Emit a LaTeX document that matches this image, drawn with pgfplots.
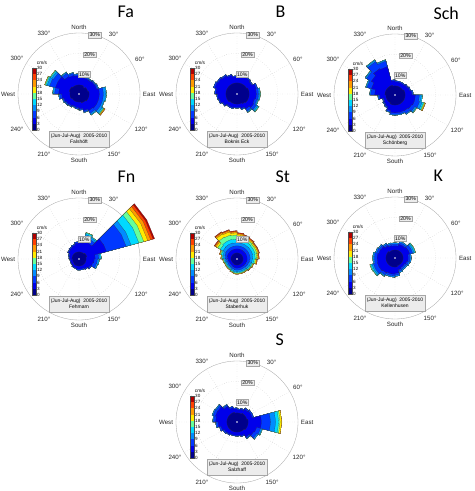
\documentclass[border=0pt]{standalone}
\usepackage{pgfplots}
\pgfplotsset{compat=1.18}
\usepackage{pgfplotstable}
\usepgfplotslibrary{polar}
\usepackage{fontspec}
\setmainfont{Liberation Sans}
\newfontfamily\titlefont{Carlito}

% speed classes 0-3, 3-6, ..., 27-30 cm/s
\definecolor{w1}{rgb}{0,0,0.55}
\definecolor{w2}{rgb}{0,0,0.92}
\definecolor{w3}{rgb}{0,0.22,1}
\definecolor{w4}{rgb}{0,0.55,1}
\definecolor{w5}{rgb}{0,0.85,1}
\definecolor{w6}{rgb}{0.4,1,0.6}
\definecolor{w7}{rgb}{1,0.92,0}
\definecolor{w8}{rgb}{1,0.6,0}
\definecolor{w9}{rgb}{1,0.25,0}
\definecolor{w10}{rgb}{0.7,0,0}

% cumulative frequency (%) per direction sector, c1 = below 3 cm/s ... c10 = all
\pgfplotstableread{
dir c1 c2 c3 c4 c5 c6 c7 c8 c9 c10
7.5   4.5 8.7 9.2 9.5 9.5 9.5 9.5 9.5 9.5 9.5
22.5  4.5 8.2 8.7 9 9 9 9 9 9 9
37.5  4 8.2 8.7 9 9 9 9 9 9 9
52.5  4.5 8.7 9.2 9.5 9.5 9.5 9.5 9.5 9.5 9.5
67.5  4.5 9 9.6 10 10 10 10 10 10 10
82.5  5 10 12 13.2 13.5 13.5 13.5 13.5 13.5 13.5
97.5  5 10 12 13.2 13.5 13.5 13.5 13.5 13.5 13.5
112.5 5 10 12 12.8 13 13 13 13 13 13
127.5 5 10 12 13.2 13.8 14.1 14.4 14.8 14.8 14.8
142.5 4.5 9.5 11 11.7 12 12 12 12 12 12
157.5 4.5 8.5 9.2 9.5 9.5 9.5 9.5 9.5 9.5 9.5
172.5 4 7.3 7.8 8 8 8 8 8 8 8
187.5 4 6.8 7.3 7.5 7.5 7.5 7.5 7.5 7.5 7.5
202.5 4 6.4 6.8 7 7 7 7 7 7 7
217.5 4 6.8 7.3 7.5 7.5 7.5 7.5 7.5 7.5 7.5
232.5 4 7.2 7.7 8 8 8 8 8 8 8
247.5 4.5 7.7 8.2 8.5 8.5 8.5 8.5 8.5 8.5 8.5
262.5 4.5 8.5 9.5 10 10 10 10 10 10 10
277.5 4.5 10 12 12.7 13 13 13 13 13 13
292.5 5 12 15 16.3 16.9 17.3 17.5 17.5 17.5 17.5
307.5 5 12 14.5 15.5 16.1 16.5 16.5 16.5 16.5 16.5
322.5 4.5 10 11.8 12.3 12.5 12.5 12.5 12.5 12.5 12.5
337.5 4.5 9.5 10.6 11 11 11 11 11 11 11
352.5 4.5 9 9.6 10 10 10 10 10 10 10
}\tabFa

\pgfplotstableread{
dir c1 c2 c3 c4 c5 c6 c7 c8 c9 c10
7.5   5.5 8.5 9 9 9 9 9 9 9 9
22.5  5.5 9 9.5 9.5 9.5 9.5 9.5 9.5 9.5 9.5
37.5  5.5 9 9.5 9.5 9.5 9.5 9.5 9.5 9.5 9.5
52.5  5.5 8.5 9 9 9 9 9 9 9 9
67.5  6 9.8 10.5 10.5 10.5 10.5 10.5 10.5 10.5 10.5
82.5  6 9.5 10.6 11.2 11.5 11.5 11.5 11.5 11.5 11.5
97.5  6 9.5 10.6 11.2 11.5 11.5 11.5 11.5 11.5 11.5
112.5 6 9 10.2 10.7 11 11 11 11 11 11
127.5 6 9.5 11 11.8 12.3 12.5 12.5 12.5 12.5 12.5
142.5 5.5 8.5 9.8 10.3 10.5 10.5 10.5 10.5 10.5 10.5
157.5 5 7.3 7.8 8 8 8 8 8 8 8
172.5 5 6.6 7 7 7 7 7 7 7 7
187.5 5 6.6 7 7 7 7 7 7 7 7
202.5 5 7 7.5 7.5 7.5 7.5 7.5 7.5 7.5 7.5
217.5 5 7 7.5 7.5 7.5 7.5 7.5 7.5 7.5 7.5
232.5 5.5 8 8.5 8.5 8.5 8.5 8.5 8.5 8.5 8.5
247.5 5.5 9 9.5 9.5 9.5 9.5 9.5 9.5 9.5 9.5
262.5 5.5 9.5 10 10 10 10 10 10 10 10
277.5 5.5 10.4 11 11 11 11 11 11 11 11
292.5 5.5 11.3 12 12 12 12 12 12 12 12
307.5 5.5 10.9 11.5 11.5 11.5 11.5 11.5 11.5 11.5 11.5
322.5 5.5 10.4 11 11 11 11 11 11 11 11
337.5 5.5 9.5 10 10 10 10 10 10 10 10
352.5 5.5 8.5 9 9 9 9 9 9 9 9
}\tabB

\pgfplotstableread{
dir c1 c2 c3 c4 c5 c6 c7 c8 c9 c10
7.5   4.5 6.5 7 7 7 7 7 7 7 7
22.5  4.5 6.5 7 7 7 7 7 7 7 7
37.5  4.5 6.5 7 7 7 7 7 7 7 7
52.5  4.5 7 7.5 7.5 7.5 7.5 7.5 7.5 7.5 7.5
67.5  5 7.5 8 8 8 8 8 8 8 8
82.5  5 8.3 8.8 9 9 9 9 9 9 9
97.5  5 10 12 13 13.5 13.5 13.5 13.5 13.5 13.5
112.5 5 10 12.5 13.8 14.5 14.9 15.3 15.5 15.5 15.5
127.5 5 9.5 11.3 12 12.3 12.5 12.5 12.5 12.5 12.5
142.5 5 9 10.5 11 11 11 11 11 11 11
157.5 5 8.8 9.6 10 10 10 10 10 10 10
172.5 5 8.8 9.6 10 10 10 10 10 10 10
187.5 5 8.8 9.6 10 10 10 10 10 10 10
202.5 5 8 8.7 9 9 9 9 9 9 9
217.5 4.5 6.8 7.3 7.5 7.5 7.5 7.5 7.5 7.5 7.5
232.5 4.5 6.3 6.8 7 7 7 7 7 7 7
247.5 4.5 5.8 6.3 6.5 6.5 6.5 6.5 6.5 6.5 6.5
262.5 4.5 7.5 8.2 8.5 8.5 8.5 8.5 8.5 8.5 8.5
277.5 5 10 12 12.5 12.5 12.5 12.5 12.5 12.5 12.5
292.5 5 12 14.3 14.8 15 15 15 15 15 15
307.5 5 13.5 16.2 16.8 17 17 17 17 17 17
322.5 5 15 19 19.7 20 20 20 20 20 20
337.5 5 14.5 17.3 17.8 18 18 18 18 18 18
352.5 4.5 7 7.5 7.5 7.5 7.5 7.5 7.5 7.5 7.5
}\tabSch

\pgfplotstableread{
dir c1 c2 c3 c4 c5 c6 c7 c8 c9 c10
7.5   3.5 8 9.3 10 10 10 10 10 10 10
22.5  3.5 9 11.5 12.5 13.2 13.5 13.5 13.5 13.5 13.5
37.5  3.5 9 11 12 12.5 12.5 12.5 12.5 12.5 12.5
52.5  4 14 24 26.5 30.5 33 35 36.5 37.7 38.5
67.5  4 14 24 26.5 30.5 33 35 36.5 37.7 38.5
82.5  3.5 8 9.8 10.5 11 11 11 11 11 11
97.5  3.5 7.5 9 9.7 10 10 10 10 10 10
112.5 3.5 7 8.8 9.5 9.5 9.5 9.5 9.5 9.5 9.5
127.5 3.5 6.3 7 7 7 7 7 7 7 7
142.5 3.5 5.5 6 6 6 6 6 6 6 6
157.5 3.5 5 5.5 5.5 5.5 5.5 5.5 5.5 5.5 5.5
172.5 3.5 5 5.5 5.5 5.5 5.5 5.5 5.5 5.5 5.5
187.5 3.5 5 5.5 5.5 5.5 5.5 5.5 5.5 5.5 5.5
202.5 3.5 4.6 5 5 5 5 5 5 5 5
217.5 3.5 4.6 5 5 5 5 5 5 5 5
232.5 3.2 4.2 4.5 4.5 4.5 4.5 4.5 4.5 4.5 4.5
247.5 3.2 4.2 4.5 4.5 4.5 4.5 4.5 4.5 4.5 4.5
262.5 3.2 4.2 4.5 4.5 4.5 4.5 4.5 4.5 4.5 4.5
277.5 3.5 4.6 5 5 5 5 5 5 5 5
292.5 3.5 5 5.5 5.5 5.5 5.5 5.5 5.5 5.5 5.5
307.5 3.5 6 6.5 6.5 6.5 6.5 6.5 6.5 6.5 6.5
322.5 3.5 6.5 7 7 7 7 7 7 7 7
337.5 3.5 7 7.5 7.5 7.5 7.5 7.5 7.5 7.5 7.5
352.5 3.5 7.8 8.5 8.5 8.5 8.5 8.5 8.5 8.5 8.5
}\tabFn

\pgfplotstableread{
dir c1 c2 c3 c4 c5 c6 c7 c8 c9 c10
7.5   3 5 6.5 8 9.5 11 11.9 12.5 12.85 13
22.5  3 5 6.5 8 9.5 10.8 11.5 12.1 12.4 12.5
37.5  3 5 6.5 8 9.5 10.5 11.1 11.6 11.9 12
52.5  3 5 6.5 8 9.3 10.2 10.8 11.2 11.4 11.5
67.5  3 5 6.5 8 9.3 10.2 10.8 11.2 11.4 11.5
82.5  3 5 6.5 7.8 9 9.8 10.3 10.7 10.9 11
97.5  3 5 6.3 7.5 8.4 9 9.5 9.8 10 10
112.5 3 4.8 6 7 7.6 8 8.3 8.5 8.5 8.5
127.5 3 4.7 5.8 6.7 7.3 7.6 7.8 8 8 8
142.5 3 4.5 5.5 6.3 6.8 7.1 7.3 7.5 7.5 7.5
157.5 3 4.5 5.5 6.3 6.8 7.1 7.3 7.5 7.5 7.5
172.5 3 4.5 5.5 6.3 6.8 7.1 7.3 7.5 7.5 7.5
187.5 3 4.5 5.5 6.3 6.8 7.1 7.3 7.5 7.5 7.5
202.5 3 4.3 5.2 5.9 6.4 6.7 6.9 7 7 7
217.5 2.8 4 4.9 5.5 5.9 6.2 6.4 6.5 6.5 6.5
232.5 2.8 4 4.9 5.5 5.9 6.2 6.4 6.5 6.5 6.5
247.5 2.8 4 4.9 5.5 5.9 6.2 6.4 6.5 6.5 6.5
262.5 3 4.3 5.2 5.9 6.4 6.7 6.9 7 7 7
277.5 3 4.7 5.8 6.7 7.3 7.6 7.8 8 8 8
292.5 3 5 6.2 7.2 8 8.5 8.8 9 9 9
307.5 3 5 6.5 8 9.5 11 11.9 12.5 12.85 13
322.5 3 5 6.5 8.2 10 12.5 14.3 15 15.35 15.5
337.5 3 5 6.5 8.2 10 12.2 13.8 14.5 14.85 15
352.5 3 5 6.5 8 9.8 11.8 12.9 13.5 13.85 14
}\tabSt

\pgfplotstableread{
dir c1 c2 c3 c4 c5 c6 c7 c8 c9 c10
7.5   4 6 6.9 7.5 7.5 7.5 7.5 7.5 7.5 7.5
22.5  4 7 7.9 8.5 8.5 8.5 8.5 8.5 8.5 8.5
37.5  4 7 7.9 8.5 8.5 8.5 8.5 8.5 8.5 8.5
52.5  4 7.5 9 9.8 10.3 10.5 10.5 10.5 10.5 10.5
67.5  4 7.5 9 9.8 10.3 10.5 10.5 10.5 10.5 10.5
82.5  4 6.5 7.4 8 8 8 8 8 8 8
97.5  4 6.5 7.4 8 8 8 8 8 8 8
112.5 4 6 6.9 7.5 7.5 7.5 7.5 7.5 7.5 7.5
127.5 4 5.5 6.4 7 7 7 7 7 7 7
142.5 4 5.5 6.4 7 7 7 7 7 7 7
157.5 4 6 6.9 7.5 7.5 7.5 7.5 7.5 7.5 7.5
172.5 4.5 7.5 8.4 9 9 9 9 9 9 9
187.5 4.5 8 8.9 9.5 9.5 9.5 9.5 9.5 9.5 9.5
202.5 4.5 8 8.9 9.5 9.5 9.5 9.5 9.5 9.5 9.5
217.5 4.5 8.5 9.7 10.2 10.5 10.5 10.5 10.5 10.5 10.5
232.5 4.5 9 11 11.8 12.3 12.5 12.5 12.5 12.5 12.5
247.5 4.5 9 11 11.8 12.4 12.8 12.8 12.8 12.8 12.8
262.5 4.5 8.8 10.2 10.8 11 11 11 11 11 11
277.5 4.5 8.8 10.2 10.8 11 11 11 11 11 11
292.5 4.5 8.3 9.4 10 10 10 10 10 10 10
307.5 4.5 8 8.9 9.5 9.5 9.5 9.5 9.5 9.5 9.5
322.5 4 7 7.9 8.5 8.5 8.5 8.5 8.5 8.5 8.5
337.5 4 6.3 7.1 7.7 7.7 7.7 7.7 7.7 7.7 7.7
352.5 4 6 6.9 7.5 7.5 7.5 7.5 7.5 7.5 7.5
}\tabK

\pgfplotstableread{
dir c1 c2 c3 c4 c5 c6 c7 c8 c9 c10
7.5   4.5 6 6.5 6.5 6.5 6.5 6.5 6.5 6.5 6.5
22.5  4.5 6.5 7 7 7 7 7 7 7 7
37.5  5 7.3 8 8 8 8 8 8 8 8
52.5  5 7.8 8.5 8.5 8.5 8.5 8.5 8.5 8.5 8.5
67.5  5 7.8 8.5 8.5 8.5 8.5 8.5 8.5 8.5 8.5
82.5  5.5 12 16.5 19 20.5 21.2 22 22 22 22
97.5  5.5 12 16.5 19 20.5 21.2 22 22 22 22
112.5 5.5 10 12 12.7 13 13 13 13 13 13
127.5 5.5 9.5 11.3 12 12 12 12 12 12 12
142.5 5 8.5 9.2 9.5 9.5 9.5 9.5 9.5 9.5 9.5
157.5 5 7 7.5 7.5 7.5 7.5 7.5 7.5 7.5 7.5
172.5 5 6.6 7 7 7 7 7 7 7 7
187.5 5 6.6 7 7 7 7 7 7 7 7
202.5 5 6.6 7 7 7 7 7 7 7 7
217.5 5 7 7.5 7.5 7.5 7.5 7.5 7.5 7.5 7.5
232.5 5 7.3 8 8 8 8 8 8 8 8
247.5 5 8.2 9 9 9 9 9 9 9 9
262.5 5 9.3 10.2 10.5 10.5 10.5 10.5 10.5 10.5 10.5
277.5 5 10.5 11.6 12 12 12 12 12 12 12
292.5 5 11 12.2 12.7 12.7 12.7 12.7 12.7 12.7 12.7
307.5 5 10.8 11.8 12.3 12.3 12.3 12.3 12.3 12.3 12.3
322.5 5 9 9.7 10 10 10 10 10 10 10
337.5 5 7.3 8 8 8 8 8 8 8 8
352.5 4.5 6.5 7 7 7 7 7 7 7 7
}\tabS

% one speed band of a rose: star polygon through the sector edges (15 deg sectors)
\newcommand\roselayer[3]{%
  \pgfplotstablegetrowsof{#1}%
  \pgfmathtruncatemacro\rosen{\pgfplotsretval-1}%
  \gdef\rosepts{}%
  \foreach \i in {0,...,\rosen}{%
    \pgfplotstablegetelem{\i}{dir}\of{#1}\let\rosedir\pgfplotsretval
    \pgfplotstablegetelem{\i}{#2}\of{#1}\let\roser\pgfplotsretval
    \pgfmathsetmacro\rosea{90-\rosedir+7.5}%
    \pgfmathsetmacro\roseb{90-\rosedir-7.5}%
    \xdef\rosepts{\rosepts(\rosea,\roser)(\roseb,\roser)}%
  }%
  \edef\rosecmd{\noexpand\addplot[fill=#3,draw=black!80,line width=0.1pt] coordinates {\rosepts} -- cycle;}%
  \rosecmd
}
\newcommand\drawrose[1]{%
  \roselayer{#1}{c10}{w10}\roselayer{#1}{c9}{w9}\roselayer{#1}{c8}{w8}%
  \roselayer{#1}{c7}{w7}\roselayer{#1}{c6}{w6}\roselayer{#1}{c5}{w5}%
  \roselayer{#1}{c4}{w4}\roselayer{#1}{c3}{w3}\roselayer{#1}{c2}{w2}%
  \roselayer{#1}{c1}{w1}}

\pgfplotsset{
  rosestyle/.style={
    scale only axis, width=122bp, height=122bp, anchor=origin,
    xmin=0, xmax=360, ymin=0, ymax=30, clip=false,
    xtick={0,30,...,330},
    xticklabels={East,60°,30°,North,330°,300°,West,240°,210°,South,150°,120°},
    ytick={10,20,30}, yticklabels={},
    xmajorgrids, ymajorgrids,
    major grid style={gray!55, dotted, line width=0.35pt},
    separate axis lines,
    x axis line style={gray!60, line width=0.35pt},
    y axis line style={draw=none},
    major tick length=0pt,
    xticklabel style={font=\fontsize{6.2}{7}\selectfont, text=black!85, inner sep=2.8pt},
  },
}
\tikzset{
  pctbox/.style={draw=gray!70, fill=gray!15, line width=0.3pt,
    font=\fontsize{5.2}{6}\selectfont, inner sep=1pt},
}

\newcommand\windpanel[5]{%
  \begin{polaraxis}[rosestyle, at={(#1bp,#2bp)}]
    \drawrose{#3}
    \fill[white] (axis cs:0,0) circle[radius=0.9pt];
    \node[pctbox] at (axis cs:75,10) {10\%};
    \node[pctbox] at (axis cs:75,20) {20\%};
    \node[pctbox] at (axis cs:75,30) {30\%};
  \end{polaraxis}
  \begin{scope}[shift={(#1bp,#2bp)}]
    \node[anchor=west, font=\titlefont\fontsize{18}{20}\selectfont] at (35,82) {#4};
    \foreach \k in {1,...,10}{%
      \fill[w\k] (-47,{-36+6.2*(\k-1)}) rectangle (-43,{-36+6.2*\k});}
    \draw[black!70, line width=0.2pt] (-47,-36) rectangle (-43,26);
    \foreach \k/\v in {0/0,1/3,2/6,3/9,4/12,5/15,6/18,7/21,8/24,9/27,10/30}{%
      \node[anchor=west, inner sep=0pt, font=\fontsize{4.6}{5}\selectfont] at (-42,{-36+6.2*\k}) {\v};}
    \node[font=\fontsize{4.8}{5}\selectfont] at (-37,31.5) {cm/s};
    \node[draw=gray!70, fill=gray!15, line width=0.3pt, align=center,
      font=\fontsize{5}{6}\selectfont, minimum width=60bp, minimum height=16bp, inner sep=1pt]
      at (0,-45) {(Jun-Jul-Aug)\ \ 2005-2010\\#5};
  \end{scope}
}

\begin{document}
\begin{tikzpicture}[x=1bp,y=1bp]
\useasboundingbox (0,0) rectangle (475,491);
\windpanel{79}{397}{\tabFa}{Fa}{Falshöft}
\windpanel{237}{397}{\tabB}{B}{Boknis Eck}
\windpanel{395}{396}{\tabSch}{Sch}{Schönberg}
\windpanel{79}{232}{\tabFn}{Fn}{Fehmarn}
\windpanel{237}{232}{\tabSt}{St}{Staberhuk}
\windpanel{395}{233}{\tabK}{K}{Kellenhusen}
\windpanel{237}{69}{\tabS}{S}{Salzhaff}
\end{tikzpicture}
\end{document}
